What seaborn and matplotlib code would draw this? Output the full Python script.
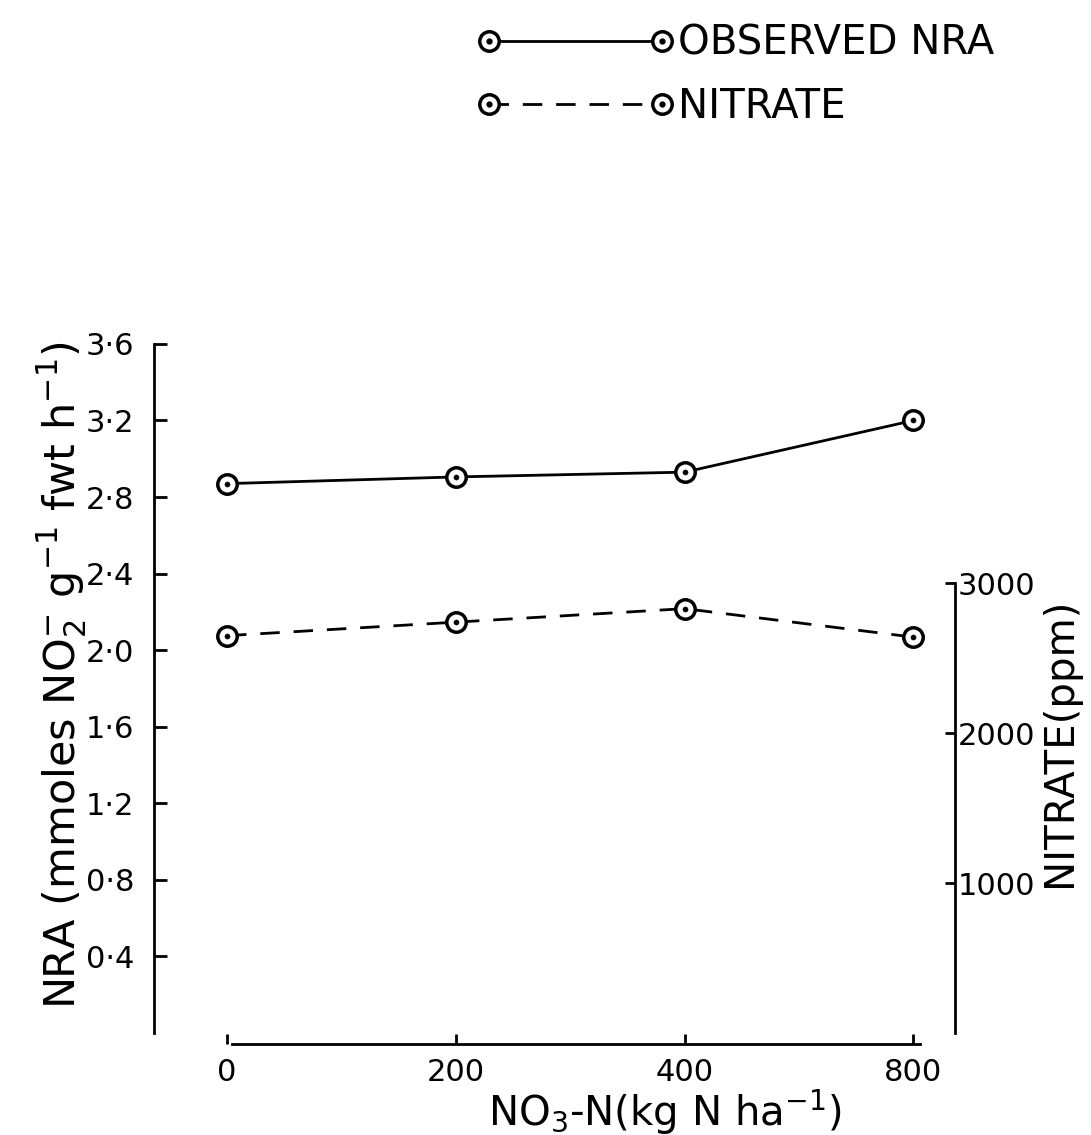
import matplotlib
matplotlib.use("Agg")
import matplotlib.pyplot as plt
import seaborn as sns
import pandas as pd
from matplotlib.lines import Line2D
from matplotlib.legend_handler import HandlerTuple

# ---- data ----
doses = ["0", "200", "400", "800"]
nra_observed = [2.87, 2.905, 2.93, 3.20]
nitrate_ppm = [2650, 2740, 2830, 2640]
nra_ticks = [0.4, 0.8, 1.2, 1.6, 2.0, 2.4, 2.8, 3.2, 3.6]
nra_ticklabels = ["0·4", "0·8", "1·2", "1·6", "2·0", "2·4", "2·8", "3·2", "3·6"]
nitrate_ticks = [1000, 2000, 3000]
nitrate_ticklabels = ["1000", "2000", "3000"]

sns.set_style("ticks")
plt.rcParams["font.family"] = ["DejaVu Sans"]
plt.rcParams["mathtext.default"] = "regular"
for k in ("text.color", "axes.labelcolor", "xtick.color", "ytick.color", "axes.edgecolor"):
    plt.rcParams[k] = "black"

df_nra = pd.DataFrame({"dose": doses, "nra": nra_observed})
df_nit = pd.DataFrame({"dose": doses, "nitrate": nitrate_ppm})

fig = plt.figure(figsize=(10.91, 11.35), dpi=100)
ax = fig.add_axes([0.141, 0.0899, 0.734, 0.6071])
ax2 = ax.twinx()

ms = 14
mew = 2.5
lw = 2.0
dash = (0, (7, 5))

sns.lineplot(data=df_nra, x="dose", y="nra", ax=ax, color="black", lw=lw,
             marker="o", markersize=ms, markerfacecolor="white",
             markeredgecolor="black", markeredgewidth=mew, clip_on=False)
sns.scatterplot(data=df_nra, x="dose", y="nra", ax=ax, color="black", s=14,
                zorder=5, clip_on=False, edgecolor="black")

sns.lineplot(data=df_nit, x="dose", y="nitrate", ax=ax2, color="black", lw=lw,
             linestyle=dash,
             marker="o", markersize=ms, markerfacecolor="white",
             markeredgecolor="black", markeredgewidth=mew, clip_on=False)
sns.scatterplot(data=df_nit, x="dose", y="nitrate", ax=ax2, color="black", s=14,
                zorder=5, clip_on=False, edgecolor="black")

# axes limits
ax.set_xlim(-0.32, 3.18)
ax.set_ylim(0, 3.6)
ax2.set_ylim(0, 3.6 / 2.35 * 3000)

# spines
for a in (ax, ax2):
    for s in a.spines.values():
        s.set_linewidth(2.0)
        s.set_color("black")
ax.spines["top"].set_visible(False)
ax.spines["right"].set_visible(False)
ax2.spines["top"].set_visible(False)
ax2.spines["left"].set_visible(False)
ax2.spines["bottom"].set_visible(False)
ax.spines["left"].set_bounds(0, 3.6)
ax.spines["bottom"].set_position(("outward", 8))
ax.spines["bottom"].set_bounds(0.02, 3.03)
ax2.spines["right"].set_bounds(0, 3000)

ax.set_yticks(nra_ticks)
ax.set_yticklabels(nra_ticklabels)
ax2.set_yticks(nitrate_ticks)
ax2.set_yticklabels(nitrate_ticklabels)
ax.set_xticks(range(len(doses)))
ax.set_xticklabels(doses)

ax.tick_params(axis="y", direction="in", length=9, width=2, labelsize=22, pad=14)
ax.tick_params(axis="x", direction="in", length=7, width=2, labelsize=22, pad=10)
ax2.tick_params(axis="y", direction="in", length=7, width=2, labelsize=22, pad=2)

ax.set_xlabel("")
ax.set_ylabel("")
ax2.set_ylabel("")
fig.text(665 / 1091, 1 - 1112 / 1135, "NO$_3$-N(kg N ha$^{-1}$)", fontsize=29,
         ha="center", va="center")
fig.text(62 / 1091, 1 - 675 / 1135, "NRA (mmoles NO$_2^{-}$ g$^{-1}$ fwt h$^{-1}$)",
         fontsize=31, rotation=90, ha="center", va="center")
fig.text(1060 / 1091, 1 - 742 / 1135, "NITRATE(ppm)", fontsize=29,
         rotation=90, ha="center", va="center")

# legend
ring = dict(color="black", lw=lw, marker="o", markersize=ms,
            markerfacecolor="white", markeredgecolor="black", markeredgewidth=mew)
h1 = Line2D([], [], **ring)
h2 = Line2D([], [], linestyle=dash, **ring)
d = Line2D([], [], lw=0, marker="o", markersize=3.5, color="black")
leg = fig.legend([(h1, d), (h2, d)], ["OBSERVED NRA", "NITRATE"],
                 handler_map={tuple: HandlerTuple(ndivide=1)},
                 loc="upper left", bbox_to_anchor=(0.437, 0.979),
                 frameon=False, fontsize=29, numpoints=2, handlelength=4.9,
                 handletextpad=0.1, labelspacing=0.58, borderpad=0,
                 borderaxespad=0)

fig.savefig("out.png", dpi=100)
